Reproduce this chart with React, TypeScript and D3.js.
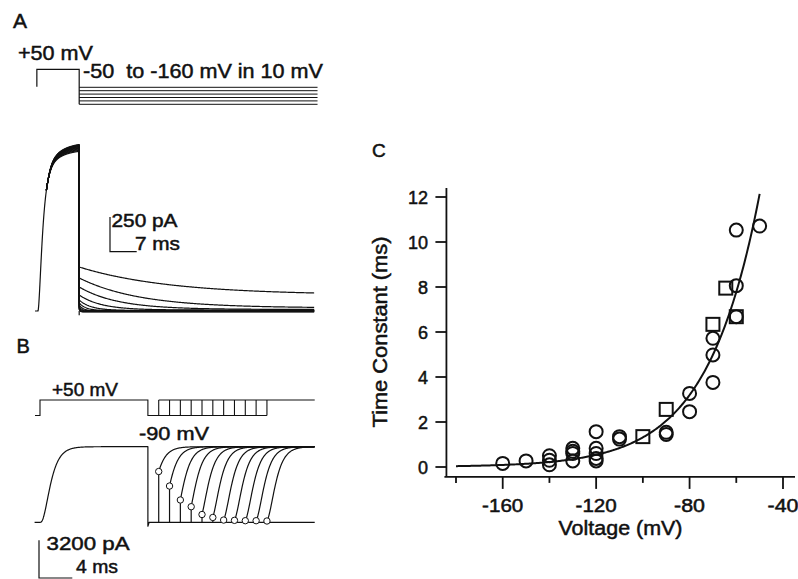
import React from "react";
import * as d3 from "d3";

// ---------------- Panel C data (time constant vs voltage) ----------------
const circleVoltage = [-160, -150, -140, -140, -140, -130, -130, -130, -130, -120, -120, -120, -120, -120, -110, -110, -90, -90, -80, -80, -70, -70, -70, -60, -60, -60, -50];
const circleTau = [0.16, 0.27, 0.1, 0.3, 0.5, 0.27, 0.6, 0.7, 0.83, 0.27, 0.38, 0.6, 0.83, 1.57, 1.24, 1.35, 1.45, 1.54, 2.46, 3.27, 3.76, 4.98, 5.72, 6.68, 8.06, 10.53, 10.71];
const squareVoltage = [-100, -90, -70, -64.5, -60];
const squareTau = [1.35, 2.56, 6.34, 7.95, 6.68];
const xTickValues = [-160, -120, -80, -40];
const xMinorTickValues = [-180, -140, -100, -60];
const yTickValues = [0, 2, 4, 6, 8, 10, 12];
// exponential fit tau = A * exp(V / k)
const fitAmplitude = 112;
const fitSlope = 22.5;
const fitStart = -180;
const fitEnd = -50;

// ---------------- Panel A data (tail currents, -50 to -160 mV) ----------------
const aStepLevels = [-50, -72, -94, -116, -138, -160];
const aPrepulseDuration = 10.8; // ms
const aTailDuration = 61.7; // ms
const aPlateauBase = 1165; // pA
const aPlateau = [1165, 1172, 1178, 1184, 1190, 1195, 1200, 1204, 1208, 1212, 1215, 1218]; // pA
const aTailPeak = [317, 238, 173, 115, 79, 58, 43, 32, 25, 20, 15, 11]; // pA
const aTailSteady = [115, 22, 11, 7, 4, 3, 2, 1, 0, -3, -5, -7]; // pA
const aTailTau = [23.6, 15.7, 10, 5.8, 3.1, 1.8, 1.05, 0.7, 0.5, 0.4, 0.3, 0.25]; // ms

// ---------------- Panel B data (recovery at -90 mV) ----------------
const bPrepulseDuration = 12.96; // ms
const bSweepEnd = 33; // ms
const bPeak = 6400; // pA
const bTau = 0.8; // ms
const bIntervals = [1.3, 2.6, 3.9, 5.2, 6.5, 7.8, 9.1, 10.4, 11.7, 13.0, 14.3]; // ms at -90 mV
const bInstant = [4300, 3070, 1890, 1320, 660, 410, 190, 165, 135, 135, 110]; // pA (circles)

const FONT = "'Liberation Sans', Arial, Helvetica, sans-serif";
const INK = "#111";

type LabelProps = {
  x: number; y: number; size?: number; len?: number; anchor?: string; rotate?: number; children: React.ReactNode;
};
function Label({ x, y, size = 18, len, anchor = "start", rotate, children }: LabelProps) {
  return (
    <text
      x={x}
      y={y}
      fontSize={size}
      fontFamily={FONT}
      textAnchor={anchor}
      textLength={len}
      lengthAdjust={len ? "spacingAndGlyphs" : undefined}
      fill={INK}
      stroke={INK}
      strokeWidth={0.5}
      style={{ whiteSpace: "pre" }}
      transform={rotate ? `rotate(${rotate} ${x} ${y})` : undefined}
    >
      {children}
    </text>
  );
}

export default function App() {
  // ---------- Panel C scales ----------
  const xC = d3.scaleLinear().domain([-180, -40]).range([456, 783]);
  const yC = d3.scaleLinear().domain([0, 12]).range([467, 197]);
  const axisY = yC(-0.44);
  const axisX = xC(-184.1);
  const fitPts = d3.range(fitStart, fitEnd + 0.01, 0.5).map((v) => [v, fitAmplitude * Math.exp(v / fitSlope)] as [number, number]);
  const fitLine = d3.line<[number, number]>().x((d) => xC(d[0])).y((d) => yC(d[1]));

  // ---------- Panel A scales ----------
  const xA = d3.scaleLinear().domain([0, 7]).range([38, 38 + 26.7]);
  const yA = d3.scaleLinear().domain([0, 250]).range([311, 311 - 34.7]);
  const yStepA = d3.scaleLinear().domain([-50, -160]).range([87.3, 104.3]);
  const yProtA = d3.scaleLinear().domain([-80, 50]).range([86.7, 69.3]);
  const actA = (t: number) => (t <= 0 ? 0 : 0.8 * Math.pow(1 - Math.exp(-t / 0.92), 2) + 0.2 * (1 - Math.exp(-t / 3.9)));
  const lineA = d3.line<[number, number]>().x((d) => xA(d[0])).y((d) => yA(d[1]));
  const tBand = 2.2; // ms: sweeps start to separate near the plateau
  // common rising phase (drawn once)
  const riseA: [number, number][] = [[-0.8, 0], [0, 0]];
  for (const t of d3.range(0.05, tBand + 0.001, 0.05)) riseA.push([t, aPlateauBase * actA(t)]);
  const sweepsA = aPlateau.map((pk, i) => {
    const cur = (t: number) => {
      const a = actA(t);
      return aPlateauBase * a + (pk - aPlateauBase) * Math.max(0, (a - 0.82) / 0.18);
    };
    const pts: [number, number][] = [];
    for (const t of d3.range(tBand, aPrepulseDuration, 0.05)) pts.push([t, cur(t)]);
    pts.push([aPrepulseDuration, cur(aPrepulseDuration)]);
    for (const s of d3.range(0, aTailDuration + 0.01, 0.2)) {
      pts.push([aPrepulseDuration + s, aTailSteady[i] + (aTailPeak[i] - aTailSteady[i]) * Math.exp(-s / aTailTau[i])]);
    }
    return lineA(pts) as string;
  });
  const stepXA = xA(aPrepulseDuration);
  const endXA = xA(aPrepulseDuration + aTailDuration) + 3;

  // ---------- Panel B scales ----------
  const xB = d3.scaleLinear().domain([0, 4]).range([40, 73.3]);
  const yB = d3.scaleLinear().domain([0, 3200]).range([522.3, 522.3 - 37.8]);
  const yProtB = d3.scaleLinear().domain([-90, 50]).range([415.5, 400]);
  const actB = (t: number) => (t <= 0 ? 0 : Math.pow(1 - Math.exp(-t / bTau), 3));
  const lineB = d3.line<[number, number]>().x((d) => xB(d[0])).y((d) => yB(d[1]));
  const preB: [number, number][] = [[-0.65, 0], [0, 0]];
  for (const t of d3.range(0.05, bPrepulseDuration, 0.05)) preB.push([t, bPeak * actB(t)]);
  preB.push([bPrepulseDuration, bPeak * actB(bPrepulseDuration)]);
  preB.push([bPrepulseDuration, -330]);
  preB.push([bPrepulseDuration + 0.15, 0]);
  preB.push([bSweepEnd, 0]);
  const recB = bIntervals.map((iv, i) => {
    const t0 = bPrepulseDuration + iv;
    const f = bInstant[i] / bPeak;
    const m0 = Math.cbrt(f);
    const pts: [number, number][] = [[t0, 0], [t0, bInstant[i]]];
    for (const s of d3.range(0.05, bSweepEnd - t0 + 0.001, 0.05)) {
      pts.push([t0 + s, bPeak * Math.pow(1 - (1 - m0) * Math.exp(-s / bTau), 3)]);
    }
    return { path: lineB(pts) as string, cx: xB(t0), cy: yB(bInstant[i]) };
  });
  const retXs = bIntervals.map((iv) => xB(bPrepulseDuration + iv));
  const stepXB = xB(bPrepulseDuration);
  const endXB = xB(bSweepEnd);
  const topB = yProtB(50);
  const lowB = yProtB(-90);

  const sq = 13;

  return (
    <svg width={798} height={579} viewBox="0 0 798 579" style={{ position: "absolute", left: 0, top: 0, background: "#fff" }}>
      <rect x={0} y={0} width={798} height={579} fill="#fff" />

      {/* ================= Panel A ================= */}
      <Label x={13} y={28} size={21}>A</Label>
      <Label x={18} y={60} size={21} len={75}>+50 mV</Label>
      <Label x={83} y={78} size={21} len={240}>{"-50  to -160 mV in 10 mV"}</Label>
      <g fill="none" stroke={INK} strokeWidth={1.2}>
        <path d={`M${xA(-0.3)},${yProtA(-80)} V${yProtA(50)} H${stepXA} V${yStepA(-160)}`} />
        {aStepLevels.map((lv, i) => (
          <line key={i} x1={stepXA} x2={endXA} y1={yStepA(lv)} y2={yStepA(lv)} strokeWidth={1} />
        ))}
      </g>
      <g fill="none" stroke={INK} strokeWidth={1.2} strokeLinejoin="round">
        <path d={lineA(riseA) as string} />
        {sweepsA.map((d, i) => (
          <path key={i} d={d} />
        ))}
        <line x1={stepXA} x2={stepXA} y1={yA(0)} y2={yA(-30)} />
      </g>
      {/* A scale bar */}
      <path d={`M110,${251.7 - (yA(0) - yA(250))} V251.7 H${110 + (xA(7) - xA(0))}`} fill="none" stroke={INK} strokeWidth={1.2} />
      <Label x={111.5} y={226.5} size={18} len={66}>250 pA</Label>
      <Label x={135} y={250} size={18} len={45}>7 ms</Label>

      {/* ================= Panel B ================= */}
      <Label x={16.5} y={353} size={20}>B</Label>
      <Label x={52} y={396} size={19} len={66}>+50 mV</Label>
      <Label x={139} y={440} size={19} len={70}>-90 mV</Label>
      <g fill="none" stroke={INK} strokeWidth={1.1}>
        <path d={`M${xB(-0.6)},${lowB} H${xB(0)} V${topB} H${stepXB} V${lowB} H${retXs[retXs.length - 1]}`} />
        <path d={`M${retXs[0]},${topB} H${endXB}`} />
        {retXs.map((x, i) => (
          <line key={i} x1={x} x2={x} y1={lowB} y2={topB} />
        ))}
      </g>
      <g fill="none" stroke={INK} strokeWidth={1.2} strokeLinejoin="round">
        <path d={lineB(preB) as string} />
        {recB.map((r, i) => (
          <path key={i} d={r.path} />
        ))}
      </g>
      <g fill="#fff" stroke={INK} strokeWidth={1}>
        {recB.map((r, i) => (
          <circle key={i} cx={r.cx} cy={r.cy} r={3.2} />
        ))}
      </g>
      {/* B scale bar */}
      <path d={`M39,${578 - (yB(0) - yB(3200))} V578 H${39 + (xB(4) - xB(0))}`} fill="none" stroke={INK} strokeWidth={1.2} />
      <Label x={46.5} y={550} size={19} len={83}>3200 pA</Label>
      <Label x={76} y={573} size={19} len={42}>4 ms</Label>

      {/* ================= Panel C ================= */}
      <Label x={372} y={157} size={19}>C</Label>
      <g stroke={INK} strokeWidth={1.8} fill="none">
        <line x1={axisX} x2={axisX} y1={yC(12.4)} y2={axisY} />
        <line x1={axisX - 2} x2={795} y1={axisY} y2={axisY} />
        {yTickValues.map((v) => (
          <line key={v} x1={axisX - 11} x2={axisX} y1={yC(v)} y2={yC(v)} />
        ))}
        {xTickValues.map((v) => (
          <line key={v} x1={xC(v)} x2={xC(v)} y1={axisY} y2={axisY + 12} />
        ))}
        {xMinorTickValues.map((v) => (
          <line key={v} x1={xC(v)} x2={xC(v)} y1={axisY} y2={axisY + 6} />
        ))}
      </g>
      {yTickValues.map((v) => (
        <Label key={v} x={428} y={yC(v) + 6.5} size={18} anchor="end">
          {String(v)}
        </Label>
      ))}
      {xTickValues.map((v) => (
        <Label key={v} x={xC(v)} y={512} size={18} anchor="middle" len={String(v).length * 10.3}>
          {String(v)}
        </Label>
      ))}
      <Label x={620.5} y={535} size={20} anchor="middle" len={124}>Voltage (mV)</Label>
      <Label x={387} y={332} size={20} anchor="middle" len={191} rotate={-90}>Time Constant (ms)</Label>

      <path d={fitLine(fitPts) as string} fill="none" stroke={INK} strokeWidth={2} />
      <g fill="none" stroke={INK} strokeWidth={2}>
        {circleVoltage.map((v, i) => (
          <circle key={i} cx={xC(v)} cy={yC(circleTau[i])} r={6.5} />
        ))}
        {squareVoltage.map((v, i) => (
          <rect key={i} x={xC(v) - sq / 2} y={yC(squareTau[i]) - sq / 2} width={sq} height={sq} />
        ))}
      </g>
    </svg>
  );
}
